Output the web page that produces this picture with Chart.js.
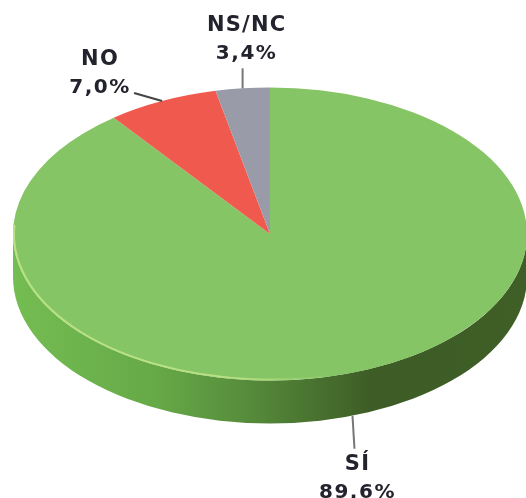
<!DOCTYPE html>
<html>
<head>
<meta charset="utf-8">
<script src="https://cdn.jsdelivr.net/npm/chart.js@4"></script>
<style>
  html, body { margin: 0; padding: 0; background: #fff; overflow: hidden; }
  canvas { display: block; filter: blur(0.5px); }
</style>
</head>
<body>
<canvas id="pie" width="526" height="498"></canvas>
<script>
const categories = ["SÍ", "NO", "NS/NC"];
const shares = [89.6, 7.0, 3.4];
const sliceColors = ["#86c565", "#f0594d", "#9a9ba9"];

// how the flat pie is squashed into a tilted disc
const tilt = 0.57;
const depth = 43;

// label placement, relative to the leader line start on the rim
const labelLayout = [
  { dx: 5, lineTo: [2, 33], name: 54, value: 82 },
  { dx: -62, lineTo: [-28, -8], name: -36, value: -8 },
  { dx: 4, lineTo: [0, -20], name: -57, value: -29 },
];

const rimPoint = (arc, angle) => ({
  x: arc.x + arc.outerRadius * Math.cos(angle),
  y: arc.y + arc.outerRadius * tilt * Math.sin(angle),
});

const tiltedPie = {
  id: "tiltedPie",
  beforeDatasetsDraw(chart) {
    const { ctx } = chart;
    const arc = chart.getDatasetMeta(0).data[0];
    const rx = arc.outerRadius;
    const ry = rx * tilt;

    // side wall of the disc
    const wall = ctx.createLinearGradient(arc.x - rx, 0, arc.x + rx, 0);
    wall.addColorStop(0, "#74bd52");
    wall.addColorStop(0.28, "#66a947");
    wall.addColorStop(0.47, "#55893a");
    wall.addColorStop(0.7, "#3d5c26");
    wall.addColorStop(1, "#3f5f27");
    ctx.save();
    ctx.beginPath();
    ctx.ellipse(arc.x, arc.y, rx, ry, 0, 0, Math.PI);
    ctx.ellipse(arc.x, arc.y + depth, rx, ry, 0, Math.PI, 0, true);
    ctx.closePath();
    ctx.fillStyle = wall;
    ctx.fill();
    ctx.restore();

    // squash the pie slices themselves
    ctx.save();
    ctx.translate(0, arc.y);
    ctx.scale(1, tilt);
    ctx.translate(0, -arc.y);
  },
  afterDatasetsDraw(chart) {
    const { ctx } = chart;
    ctx.restore();

    const arcs = chart.getDatasetMeta(0).data;
    const first = arcs[0];
    const rx = first.outerRadius;

    // pale highlight along the front left edge, fading out to the right
    const glow = ctx.createLinearGradient(first.x - rx, 0, first.x + 60, 0);
    glow.addColorStop(0, "#b9e184");
    glow.addColorStop(0.7, "#b9e184");
    glow.addColorStop(1, "rgba(185, 225, 132, 0)");
    ctx.save();
    ctx.beginPath();
    ctx.ellipse(first.x, first.y, rx - 1, rx * tilt - 1, 0, Math.PI * 0.4, Math.PI * 1.02);
    ctx.strokeStyle = glow;
    ctx.lineWidth = 2;
    ctx.stroke();
    ctx.restore();

    // leader lines and labels
    arcs.forEach((arc, i) => {
      const mid = (arc.startAngle + arc.endAngle) / 2;
      const start = rimPoint(arc, mid);
      const layout = labelLayout[i];
      const from = { x: start.x, y: start.y + (i === 0 ? depth : 0) };

      ctx.save();
      ctx.beginPath();
      ctx.moveTo(from.x, from.y);
      ctx.lineTo(from.x + layout.lineTo[0], from.y + layout.lineTo[1]);
      ctx.strokeStyle = i === 1 ? "#444" : "#777";
      ctx.lineWidth = 2;
      ctx.stroke();

      ctx.fillStyle = "#23232e";
      ctx.textAlign = "center";
      ctx.textBaseline = "alphabetic";
      ctx.font = 'bold 21px "DejaVu Sans"';
      ctx.letterSpacing = "1.2px";
      ctx.fillText(categories[i], from.x + layout.dx, from.y + layout.name);
      ctx.font = 'bold 20px "DejaVu Sans"';
      ctx.letterSpacing = "1.5px";
      ctx.fillText(shares[i].toFixed(1).replace(".", ",") + "%", from.x + layout.dx, from.y + layout.value);
      ctx.restore();
    });
  },
};

new Chart(document.getElementById("pie"), {
  type: "pie",
  data: {
    labels: categories,
    datasets: [
      {
        data: shares,
        backgroundColor: sliceColors,
        borderWidth: 0,
        clip: false,
      },
    ],
  },
  options: {
    responsive: false,
    animation: false,
    devicePixelRatio: 1,
    radius: 257,
    layout: { padding: { left: 14, right: 0, top: 0, bottom: 30 } },
    plugins: {
      legend: { display: false },
      tooltip: { enabled: false },
    },
  },
  plugins: [tiltedPie],
});
</script>
</body>
</html>
